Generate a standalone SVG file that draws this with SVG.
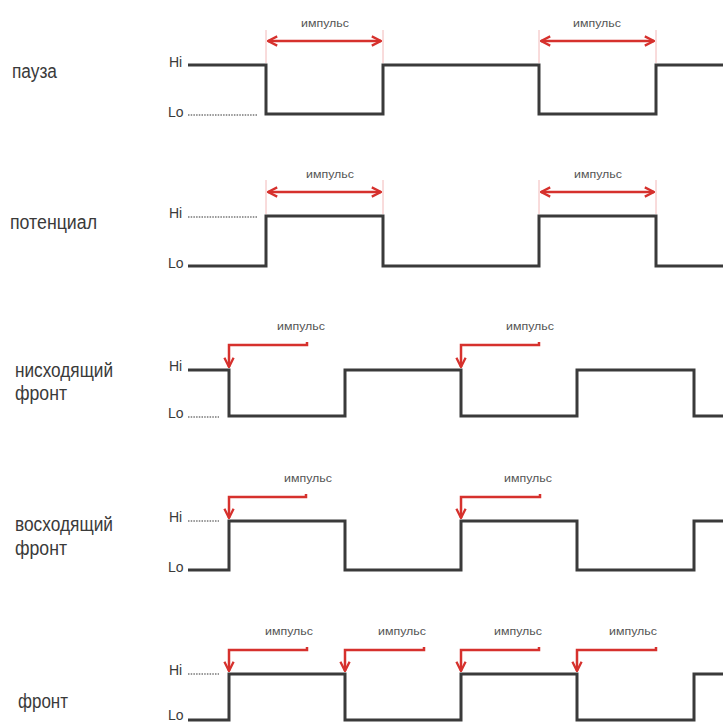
<svg xmlns="http://www.w3.org/2000/svg" width="723" height="722" viewBox="0 0 723 722">
<defs>
<style>
.sig{fill:none;stroke:#3a3a3a;stroke-width:3;stroke-linejoin:miter}
.dot{fill:none;stroke:#777;stroke-width:1.5;stroke-dasharray:1.5 1.2}
.arr{fill:none;stroke:#d6312d;stroke-width:2.5}
.guide{fill:none;stroke:#f2b8b8;stroke-width:1}
.lbl{font-family:"Liberation Sans","DejaVu Sans",sans-serif;font-size:20px;fill:#3a3a3a}
.hl{font-family:"Liberation Sans","DejaVu Sans",sans-serif;font-size:14px;fill:#3a3a3a}
.imp{font-family:"Liberation Sans","DejaVu Sans",sans-serif;font-size:10px;fill:#555}
</style>
<marker id="ah" viewBox="0 0 10 10" refX="9" refY="5" markerWidth="4.6" markerHeight="4.6" orient="auto-start-reverse" markerUnits="strokeWidth">
<path d="M1,1 L9,5 L1,9" fill="none" stroke="#d6312d" stroke-width="2"/>
</marker>
</defs>
<rect width="723" height="722" fill="#fff"/>

<g id="pauza">
<text class="lbl" x="12" y="78" textLength="45" lengthAdjust="spacingAndGlyphs">пауза</text>
<text class="hl" x="169" y="67">Hi</text>
<text class="hl" x="168" y="117">Lo</text>
<line class="dot" x1="188" y1="115" x2="257" y2="115"/>
<path class="sig" d="M188,65 H266 V114 H383 V65 H539 V114 H656 V65 H723"/>
<path class="guide" d="M266,30 V63 M383,30 V63 M539,30 V63 M656,30 V63"/>
<g class="connectors">
<line class="arr" x1="268" y1="41" x2="381" y2="41" marker-start="url(#ah)" marker-end="url(#ah)"/>
<line class="arr" x1="541" y1="41" x2="654" y2="41" marker-start="url(#ah)" marker-end="url(#ah)"/>
</g>
<text class="imp" x="301" y="27" textLength="48" lengthAdjust="spacingAndGlyphs">импульс</text>
<text class="imp" x="573" y="27" textLength="48" lengthAdjust="spacingAndGlyphs">импульс</text>
</g>

<g id="potencial">
<text class="lbl" x="10" y="229" textLength="87" lengthAdjust="spacingAndGlyphs">потенциал</text>
<text class="hl" x="169" y="218">Hi</text>
<text class="hl" x="168" y="268">Lo</text>
<line class="dot" x1="188" y1="217" x2="257" y2="217"/>
<path class="sig" d="M188,266 H266 V216 H383 V266 H539 V216 H656 V266 H723"/>
<path class="guide" d="M266,180 V214 M383,180 V214 M539,180 V214 M656,180 V214"/>
<g class="connectors">
<line class="arr" x1="268" y1="192" x2="381" y2="192" marker-start="url(#ah)" marker-end="url(#ah)"/>
<line class="arr" x1="541" y1="192" x2="654" y2="192" marker-start="url(#ah)" marker-end="url(#ah)"/>
</g>
<text class="imp" x="306" y="178" textLength="48" lengthAdjust="spacingAndGlyphs">импульс</text>
<text class="imp" x="574" y="178" textLength="48" lengthAdjust="spacingAndGlyphs">импульс</text>
</g>

<g id="nishodyashiy">
<text class="lbl" x="15" y="377" textLength="98" lengthAdjust="spacingAndGlyphs">нисходящий</text>
<text class="lbl" x="15" y="400" textLength="52" lengthAdjust="spacingAndGlyphs">фронт</text>
<text class="hl" x="169" y="371">Hi</text>
<text class="hl" x="168" y="418">Lo</text>
<line class="dot" x1="188" y1="417" x2="219" y2="417"/>
<path class="sig" d="M188,370 H229 V416 H345 V370 H461 V416 H577 V370 H694 V416 H723"/>
<g class="connectors">
<path class="arr" d="M307,342 V345 H229 V367" marker-end="url(#ah)"/>
<path class="arr" d="M539,342 V345 H461 V367" marker-end="url(#ah)"/>
</g>
<text class="imp" x="277" y="330" textLength="48" lengthAdjust="spacingAndGlyphs">импульс</text>
<text class="imp" x="506" y="330" textLength="48" lengthAdjust="spacingAndGlyphs">импульс</text>
</g>

<g id="voshodyashiy">
<text class="lbl" x="15" y="531" textLength="98" lengthAdjust="spacingAndGlyphs">восходящий</text>
<text class="lbl" x="15" y="555" textLength="52" lengthAdjust="spacingAndGlyphs">фронт</text>
<text class="hl" x="169" y="522">Hi</text>
<text class="hl" x="168" y="572">Lo</text>
<line class="dot" x1="188" y1="521" x2="219" y2="521"/>
<path class="sig" d="M188,570 H229 V521 H345 V570 H461 V521 H577 V570 H694 V521 H723"/>
<g class="connectors">
<path class="arr" d="M306,494 V497 H229 V518" marker-end="url(#ah)"/>
<path class="arr" d="M540,494 V497 H461 V518" marker-end="url(#ah)"/>
</g>
<text class="imp" x="284" y="482" textLength="48" lengthAdjust="spacingAndGlyphs">импульс</text>
<text class="imp" x="504" y="482" textLength="48" lengthAdjust="spacingAndGlyphs">импульс</text>
</g>

<g id="front">
<text class="lbl" x="18" y="708" textLength="50" lengthAdjust="spacingAndGlyphs">фронт</text>
<text class="hl" x="169" y="675">Hi</text>
<text class="hl" x="168" y="720">Lo</text>
<line class="dot" x1="188" y1="674" x2="219" y2="674"/>
<path class="sig" d="M188,720 H229 V674 H345 V720 H461 V674 H577 V720 H694 V674 H723"/>
<g class="connectors">
<path class="arr" d="M307,647 V650 H229 V671" marker-end="url(#ah)"/>
<path class="arr" d="M424,647 V650 H345 V671" marker-end="url(#ah)"/>
<path class="arr" d="M539,647 V650 H461 V671" marker-end="url(#ah)"/>
<path class="arr" d="M656,647 V650 H577 V671" marker-end="url(#ah)"/>
</g>
<text class="imp" x="265" y="635" textLength="48" lengthAdjust="spacingAndGlyphs">импульс</text>
<text class="imp" x="378" y="635" textLength="48" lengthAdjust="spacingAndGlyphs">импульс</text>
<text class="imp" x="494" y="635" textLength="48" lengthAdjust="spacingAndGlyphs">импульс</text>
<text class="imp" x="609" y="635" textLength="48" lengthAdjust="spacingAndGlyphs">импульс</text>
</g>
</svg>
